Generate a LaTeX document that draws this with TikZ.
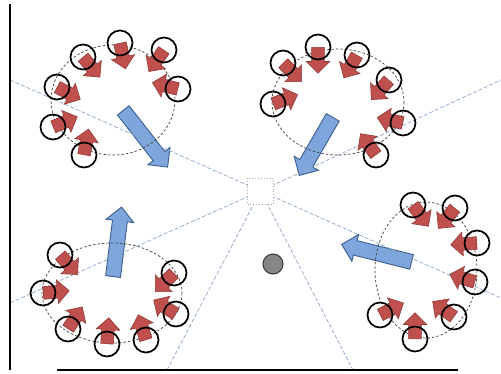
\documentclass[tikz,border=0pt]{standalone}
\usetikzlibrary{shapes.arrows}
\definecolor{pushred}{HTML}{C0504D}
\definecolor{pushedge}{HTML}{8E3B38}
\definecolor{flowblue}{HTML}{7EA6DC}
\definecolor{flowedge}{HTML}{3B5E8C}
\definecolor{rayblue}{HTML}{8AA6C8}
\tikzset{
	sensor/.style={circle, draw=black, line width=1.7pt, minimum size=25pt, inner sep=0pt},
	push/.style={single arrow, draw=pushedge, fill=pushred, line width=0.6pt, inner xsep=0pt, inner ysep=6pt, minimum height=26pt, single arrow head extend=5.5pt, anchor=tail},
	flow/.style={single arrow, draw=flowedge, fill=flowblue, line width=0.9pt, inner xsep=0pt, inner ysep=7pt, single arrow head extend=6.5pt, anchor=tail},
	ring/.style={draw=black!75, dash pattern=on 2.5pt off 2pt, line width=0.7pt},
	ray/.style={draw=rayblue, dash pattern=on 4pt off 2pt, line width=0.7pt},
	hub/.style={draw=gray!70, dotted, fill=white, line width=0.9pt, minimum size=26pt, inner sep=0pt}
}

\begin{document}
\begin{tikzpicture}[x=1pt, y=-1pt]
	\useasboundingbox (0,0) rectangle (501,373);

	% big arrows
	\node[flow, minimum height=72pt, rotate=-52] (f-tl) at (123,110) {};
	\node[flow, minimum height=67pt, rotate=-120] (f-tr) at (333,117) {};
	\node[flow, minimum height=70pt, rotate=83] (f-bl) at (113,277) {};
	\node[flow, minimum height=72pt, rotate=166] (f-br) at (412,262) {};

	% rays
	\coordinate (o) at (260.5,191);
	\coordinate (r1) at (10,80);
	\coordinate (r2) at (501,298);
	\coordinate (r3) at (10,303);
	\coordinate (r4) at (501,80);
	\coordinate (r5) at (167,370);
	\coordinate (r6) at (353,370);
	\foreach \e in {r1,r2,r3,r4,r5,r6}{
		\draw[ray] (o) -- (\e);
	}
	\node[hub] (box) at (o) {};

	\draw[ring] (113,100) ellipse [x radius=62, y radius=55];
	\draw[ring] (338,102) ellipse [x radius=66, y radius=53];
	\draw[ring] (112,293) ellipse [x radius=70, y radius=50];
	\draw[ring] (426,270) ellipse [x radius=51, y radius=68];

	% top left
	\foreach \x/\y/\a [count=\i] in {120/43/-78, 164/50/-125, 178/89/166, 83/57/-50, 57/87/-28, 53/127/23, 84/155/80}{
		\node[push, rotate=\a] (p-tl-\i) at (\x,\y) {};
		\node[sensor] (s-tl-\i) at (\x,\y) {};
	}
	% top right
	\foreach \x/\y/\a [count=\i] in {318/47/-90, 283/63/-45, 357/55/-120, 389/80/-132, 273/104/21, 403/123/168, 376/155/126}{
		\node[push, rotate=\a] (p-tr-\i) at (\x,\y) {};
		\node[sensor] (s-tr-\i) at (\x,\y) {};
	}
	% bottom left
	\foreach \x/\y/\a [count=\i] in {60/255/-48, 43/293/5, 68/329/57, 107/344/86, 146/340/107, 176/314/148, 174/273/-135}{
		\node[push, rotate=\a] (p-bl-\i) at (\x,\y) {};
		\node[sensor] (s-bl-\i) at (\x,\y) {};
	}
	% bottom right
	\foreach \x/\y/\a [count=\i] in {413/205/-54, 455/208/-129, 477/243/-176, 475/282/163, 380/315/27, 454/317/144, 415/339/90}{
		\node[push, rotate=\a] (p-br-\i) at (\x,\y) {};
		\node[sensor] (s-br-\i) at (\x,\y) {};
	}

	\node[circle, draw=black!80, fill=gray!95, line width=1pt, minimum size=20pt, inner sep=0pt] (dot) at (273,264) {};

	\draw[line width=2.5pt] (10,4) -- (10,370);
	\draw[line width=2.5pt] (57,370) -- (458,370);
\end{tikzpicture}
\end{document}
